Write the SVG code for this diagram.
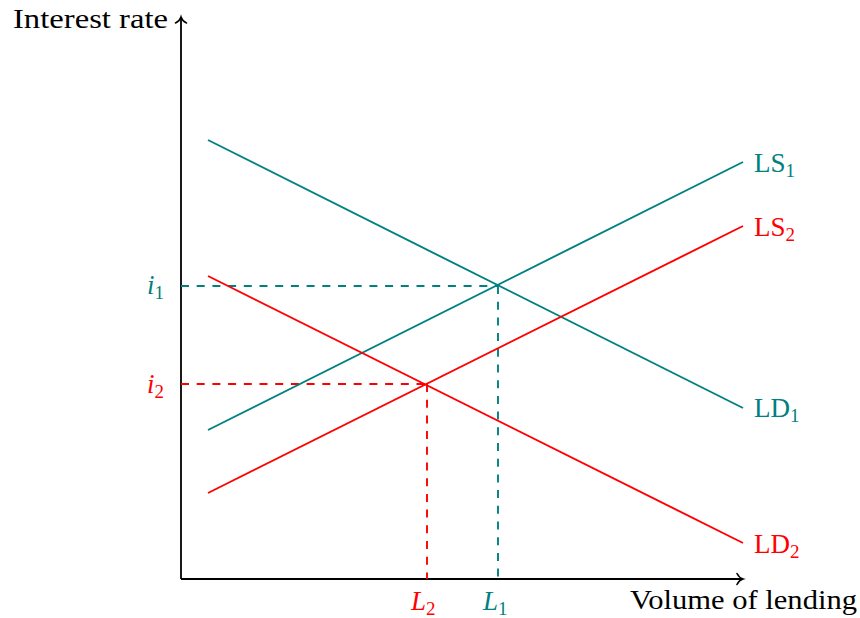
<svg xmlns="http://www.w3.org/2000/svg" width="860" height="618" viewBox="0 0 860 618">
<style>
text{font-family:"Liberation Serif","Times New Roman",serif;font-size:27px;}
.teal{fill:#008080;}
.red{fill:#ff0000;}
.sub{font-size:19px;}
.it{font-style:italic;}
.ln{fill:none;stroke-width:1.9;}
.tl{stroke:#008080;}
.rd{stroke:#ff0000;}
.dash{stroke-dasharray:8 7.7;}
.axis{fill:none;stroke:#000;stroke-width:1.8;}
</style>
<defs>
<marker id="arr" markerUnits="userSpaceOnUse" viewBox="-10 -7 12 14" refX="0" refY="0" markerWidth="12" markerHeight="14" orient="auto" overflow="visible">
<path d="M-6,-5.5 C-4.5,-2.5 -2,-0.6 0,0 C-2,0.6 -4.5,2.5 -6,5.5" fill="none" stroke="#000" stroke-width="1.6" stroke-linecap="round"/>
</marker>
</defs>
<g id="axes">
<path class="axis" d="M181,579 L181,17" marker-end="url(#arr)"/>
<path class="axis" d="M181,579 L743,579" marker-end="url(#arr)"/>
<text x="13" y="28" textLength="155" lengthAdjust="spacingAndGlyphs">Interest rate</text>
<text x="630" y="609" textLength="227" lengthAdjust="spacingAndGlyphs">Volume of lending</text>
</g>
<g id="connectors">
<line class="ln tl dash" x1="181" y1="286" x2="498" y2="286"/>
<line class="ln tl dash" x1="498" y1="286" x2="498" y2="579"/>
<line class="ln rd dash" x1="181" y1="384" x2="427" y2="384"/>
<line class="ln rd dash" x1="427" y1="384" x2="427" y2="579"/>
</g>
<g id="LD1">
<line class="ln tl" x1="208" y1="140" x2="743" y2="408"/>
<text class="teal" x="754" y="417">LD<tspan class="sub" dy="5">1</tspan></text>
</g>
<g id="LS1">
<line class="ln tl" x1="208" y1="430" x2="743" y2="162"/>
<text class="teal" x="754" y="172">LS<tspan class="sub" dy="5">1</tspan></text>
</g>
<g id="LS2">
<line class="ln rd" x1="208" y1="493" x2="743" y2="226"/>
<text class="red" x="754" y="236">LS<tspan class="sub" dy="5">2</tspan></text>
</g>
<g id="LD2">
<line class="ln rd" x1="208" y1="276" x2="743" y2="543"/>
<text class="red" x="754" y="553">LD<tspan class="sub" dy="5">2</tspan></text>
</g>
<g id="i1"><text class="teal it" x="147" y="294">i<tspan class="sub" font-style="normal" dy="5">1</tspan></text></g>
<g id="i2"><text class="red it" x="147" y="393">i<tspan class="sub" font-style="normal" dy="5">2</tspan></text></g>
<g id="L2"><text class="red it" x="411" y="610">L<tspan class="sub" font-style="normal" dy="5">2</tspan></text></g>
<g id="L1"><text class="teal it" x="483" y="610">L<tspan class="sub" font-style="normal" dy="5">1</tspan></text></g>
</svg>
